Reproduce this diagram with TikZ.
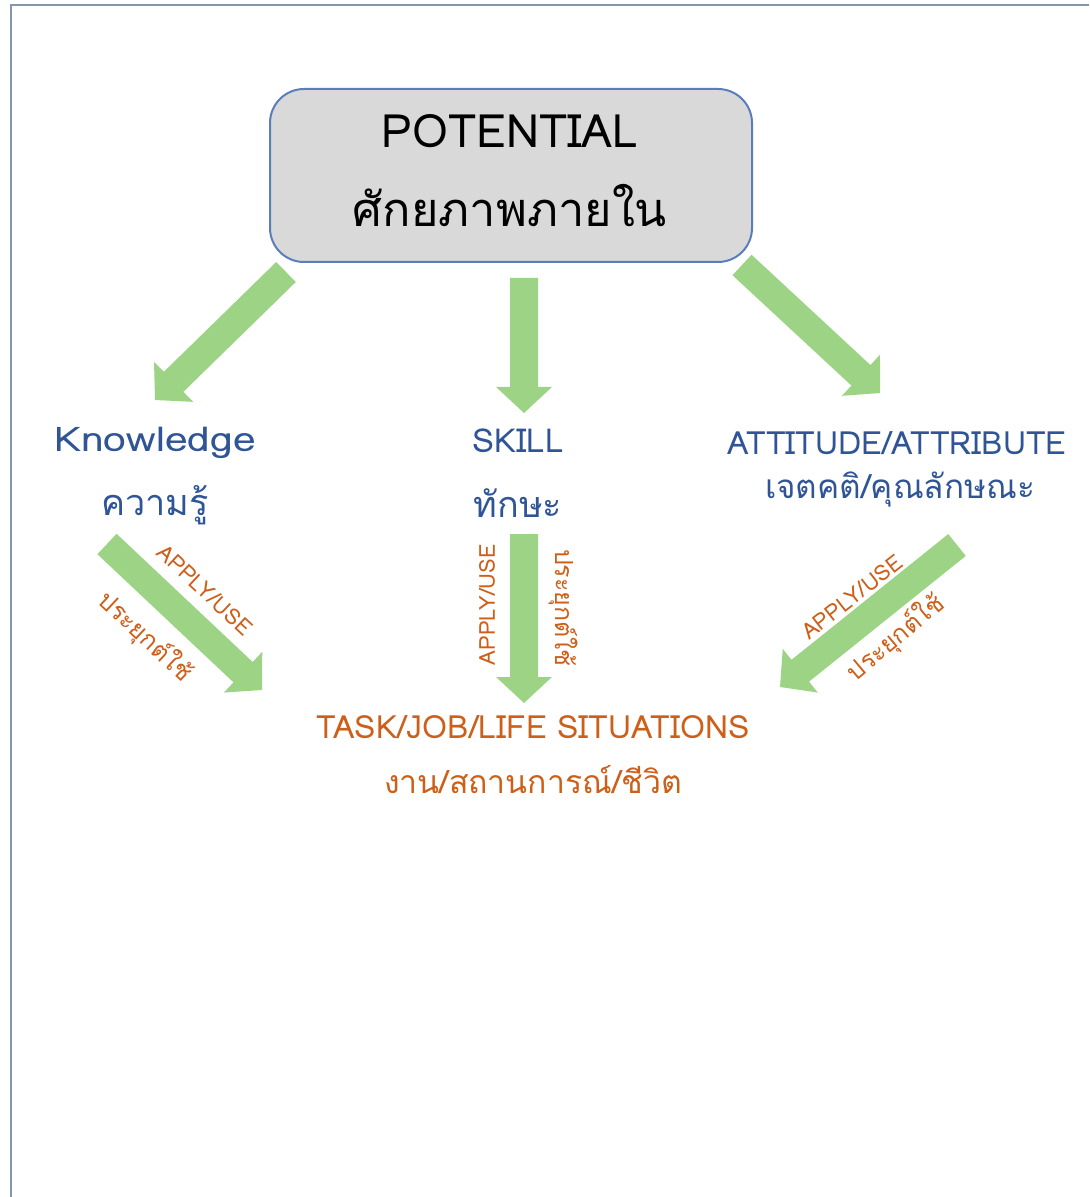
\documentclass[tikz,border=0pt]{standalone}
\usepackage{fontspec}
\usetikzlibrary{calc}
\newfontfamily\thaifont[Script=Thai]{Loma}
\newfontfamily\latfont{Loma}
\newfontfamily\latwide[FakeStretch=1.2]{Loma}
\definecolor{agreen}{RGB}{157,211,133}
\definecolor{tblue}{RGB}{47,85,151}
\definecolor{torange}{RGB}{205,95,25}
\definecolor{boxfill}{RGB}{217,217,217}
\definecolor{boxline}{RGB}{90,125,190}
\definecolor{framec}{RGB}{132,151,176}
\newcommand\greenarrow[2]{%
  \coordinate (bac) at ($(#2)!13pt!(#1)$);
  \fill[agreen] ($(#1)!7pt!90:(#2)$) -- ($(bac)!7pt!90:(#2)$) -- ($(bac)!14pt!90:(#2)$) -- (#2)
    -- ($(bac)!14pt!-90:(#2)$) -- ($(bac)!7pt!-90:(#2)$) -- ($(#1)!7pt!-90:(#2)$) -- cycle;}
\tikzset{
  potbox/.style={draw=boxline, line width=1pt, fill=boxfill, rounded corners=17pt,
    minimum width=241pt, minimum height=86.5pt, inner sep=0pt},
  bigtxt/.style={inner sep=0pt, text=black},
  bluetxt/.style={inner sep=0pt, text=tblue},
  orangetxt/.style={inner sep=0pt, text=torange},
  smalllbl/.style={inner sep=0pt, text=torange, font=\latfont\fontsize{11}{13}\selectfont},
  smallthai/.style={inner sep=0pt, text=torange, font=\thaifont\fontsize{12.5}{14}\selectfont},
}
\begin{document}
\begin{tikzpicture}[x=0.5pt,y=-0.5pt]
\useasboundingbox (0,0) rectangle (1089,1197);
% frame
\draw[framec, line width=1.2pt] (11,1197) -- (11,5) -- (1089,5);
% box
\node[potbox] (pot) at (511,175.5) {};
\node[bigtxt, font=\latfont\fontsize{23}{26}\selectfont] (potA) at (510,131) {POTENTIAL};
\node[bigtxt, font=\thaifont\fontsize{23.5}{26}\selectfont] (potB) at (510,206) {ศักยภาพภายใน};
% labels
\node[bluetxt, font=\latwide\fontsize{17}{19}\selectfont] (kn) at (155,443) {Knowledge};
\node[bluetxt, font=\thaifont\fontsize{18}{20}\selectfont] (knT) at (155,505) {ความรู้};
\node[bluetxt, font=\latfont\fontsize{16.5}{19}\selectfont] (sk) at (518,441) {SKILL};
\node[bluetxt, font=\thaifont\fontsize{18}{20}\selectfont] (skT) at (518,503) {ทักษะ};
\node[bluetxt, font=\latfont\fontsize{16}{19}\selectfont] (at) at (897,443) {ATTITUDE/ATTRIBUTE};
\node[bluetxt, font=\thaifont\fontsize{16.6}{19}\selectfont] (atT) at (900,490) {เจตคติ/คุณลักษณะ};
\node[orangetxt, font=\latfont\fontsize{16}{18}\selectfont] (task) at (533,727) {TASK/JOB/LIFE SITUATIONS};
\node[orangetxt, font=\thaifont\fontsize{16}{19}\selectfont] (taskT) at (533,780) {งาน/สถานการณ์/ชีวิต};
% arrow end points
\coordinate (a1s) at (286,272); \coordinate (a1e) at (155,400);
\coordinate (a2s) at (524,278); \coordinate (a2e) at (524,413);
\coordinate (a3s) at (742,265); \coordinate (a3e) at (880,393);
\coordinate (a4s) at (107,544); \coordinate (a4e) at (262,690);
\coordinate (a5s) at (524,534); \coordinate (a5e) at (524,703);
\coordinate (a6s) at (957,545); \coordinate (a6e) at (780,687);
\greenarrow{a1s}{a1e}
\greenarrow{a2s}{a2e}
\greenarrow{a3s}{a3e}
\greenarrow{a4s}{a4e}
\greenarrow{a5s}{a5e}
\greenarrow{a6s}{a6e}
% arrow labels
\node[smalllbl, rotate=-43] (l1a) at (205,590) {APPLY/USE};
\node[smallthai, rotate=-43] (l1b) at (145,637) {ประยุกต์ใช้};
\node[smalllbl, rotate=90] (l2a) at (487,605) {APPLY/USE};
\node[smallthai, rotate=-90] (l2b) at (563,608) {ประยุกต์ใช้};
\node[smalllbl, rotate=38] (l3a) at (852,597) {APPLY/USE};
\node[smallthai, rotate=40] (l3b) at (896,638) {ประยุกต์ใช้};
\end{tikzpicture}
\end{document}
